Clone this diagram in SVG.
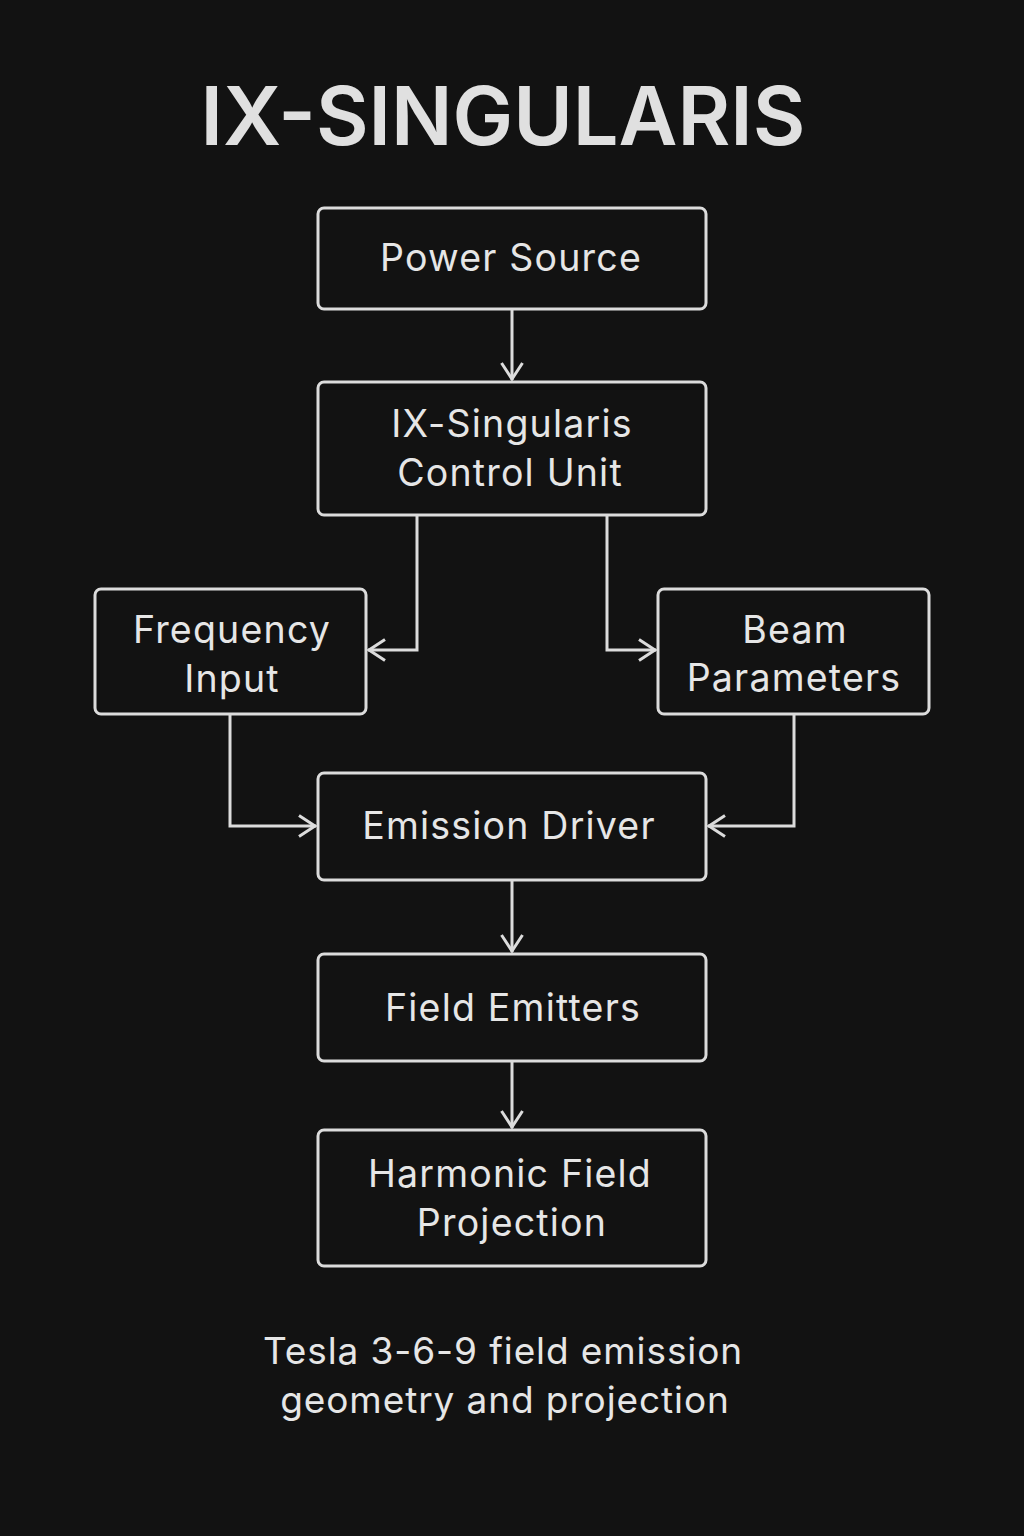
<svg xmlns="http://www.w3.org/2000/svg" width="1024" height="1536" viewBox="0 0 1024 1536">
<defs>
<style>
.box{fill:#121212;stroke:#dcdcdc;stroke-width:3}
.lbl{fill:#e6e6e6;font-family:Inter,"Liberation Sans",sans-serif;font-size:37.5px;letter-spacing:1.2px;text-anchor:middle}
.foot{font-size:37px;letter-spacing:0.9px}
.conn{fill:none;stroke:#dcdcdc;stroke-width:3}
.title{fill:#e0e0e0;font-family:Inter,"Liberation Sans",sans-serif;font-size:81px;font-weight:600;text-anchor:middle}
</style>
<marker id="arr" viewBox="0 0 24 24" refX="21" refY="12" markerWidth="24" markerHeight="24" markerUnits="userSpaceOnUse" orient="auto">
<path d="M4,1.5 L20,12 L4,22.5" fill="none" stroke="#dcdcdc" stroke-width="3"/>
</marker>
</defs>
<rect width="1024" height="1536" fill="#121212"/>
<text class="title" x="503" y="145">IX-SINGULARIS</text>
<g id="connectors">
<path class="conn" d="M512,309 V380" marker-end="url(#arr)"/>
<path class="conn" d="M417,515 V650 H368" marker-end="url(#arr)"/>
<path class="conn" d="M607,515 V650 H656" marker-end="url(#arr)"/>
<path class="conn" d="M230,714 V826 H316" marker-end="url(#arr)"/>
<path class="conn" d="M794,714 V826 H708" marker-end="url(#arr)"/>
<path class="conn" d="M512,880 V952" marker-end="url(#arr)"/>
<path class="conn" d="M512,1061 V1128" marker-end="url(#arr)"/>
</g>
<g id="power-source"><rect class="box" x="318" y="208" width="388" height="101" rx="6"/><text class="lbl" x="511" y="271">Power Source</text></g>
<g id="control-unit"><rect class="box" x="318" y="382" width="388" height="133" rx="6"/><text class="lbl" x="512" y="437">IX-Singularis</text><text class="lbl" x="510" y="486">Control Unit</text></g>
<g id="frequency-input"><rect class="box" x="95" y="589" width="271" height="125" rx="6"/><text class="lbl" x="232" y="643">Frequency</text><text class="lbl" x="232" y="692">Input</text></g>
<g id="beam-parameters"><rect class="box" x="658" y="589" width="271" height="125" rx="6"/><text class="lbl" x="795" y="643">Beam</text><text class="lbl" x="794" y="691">Parameters</text></g>
<g id="emission-driver"><rect class="box" x="318" y="773" width="388" height="107" rx="6"/><text class="lbl" x="509" y="839">Emission Driver</text></g>
<g id="field-emitters"><rect class="box" x="318" y="954" width="388" height="107" rx="6"/><text class="lbl" x="513" y="1021">Field Emitters</text></g>
<g id="harmonic-field"><rect class="box" x="318" y="1130" width="388" height="136" rx="6"/><text class="lbl" x="510" y="1187">Harmonic Field</text><text class="lbl" x="512" y="1236">Projection</text></g>
<text class="lbl foot" x="503" y="1364">Tesla 3-6-9 field emission</text>
<text class="lbl foot" x="505" y="1413">geometry and projection</text>
</svg>
